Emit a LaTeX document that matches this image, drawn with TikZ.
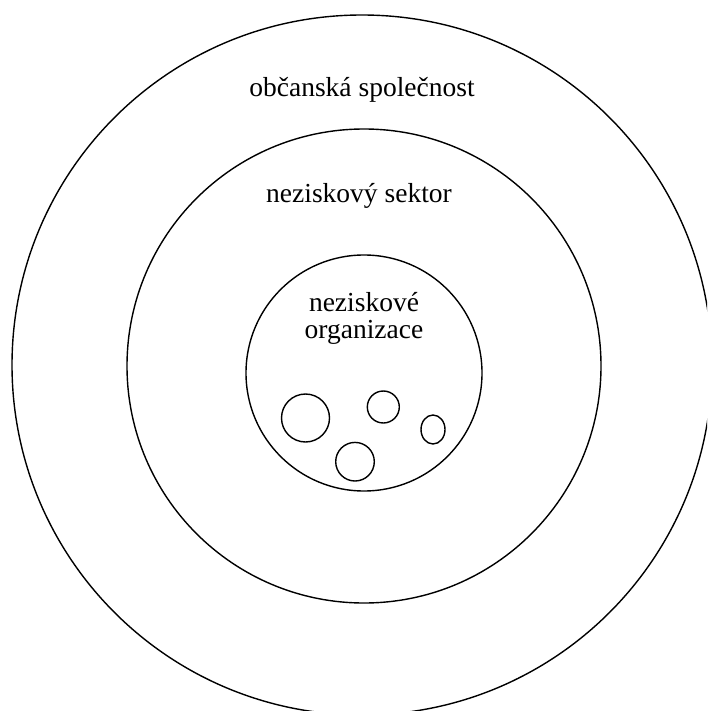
\documentclass[tikz,border=0pt]{standalone}
\usepackage{fontspec}
\setmainfont{Liberation Serif}
\begin{document}
\begin{tikzpicture}[x=1pt,y=-1pt,
  ring/.style={draw=black, line width=1.4pt},
  lbl/.style={anchor=base, inner sep=0pt, font=\fontsize{27.5}{33}\selectfont}]
\useasboundingbox (0,0) rectangle (707,711);
\clip (0,0) rectangle (707,711);
% rings
\draw[ring] (362,365) circle[radius=350];
\draw[ring] (364,366) circle[radius=237];
\draw[ring] (364,373) circle[radius=118];
% small circles
\draw[ring] (305.5,418) circle[radius=24];
\draw[ring] (383.3,407) circle[radius=16];
\draw[ring] (433,429.5) ellipse[x radius=12, y radius=14.5];
\draw[ring] (355,461.7) circle[radius=19.3];
% labels
\node[lbl] (obc) at (362,97) {občanská společnost};
\node[lbl] (nsek) at (359,203) {neziskový sektor};
\node[lbl] (norg1) at (364,311) {neziskové};
\node[lbl] (norg2) at (364,338) {organizace};
\end{tikzpicture}
\end{document}
